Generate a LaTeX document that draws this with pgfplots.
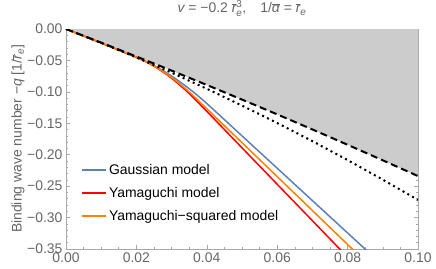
\documentclass[border=0pt]{standalone}
\usepackage{fontspec}
\setmainfont{Liberation Sans}
\usepackage{pgfplots}
\pgfplotsset{compat=1.18}
\definecolor{mblue}{HTML}{5E81B5}
\definecolor{morange}{RGB}{255,128,0}
\definecolor{mred}{RGB}{255,0,0}
\definecolor{txtgray}{HTML}{666666}
\definecolor{framegray}{HTML}{A8A8A8}
\definecolor{fillgray}{HTML}{CCCCCC}
\newcommand{\rb}{\ensuremath{\overline{\mbox{\itshape r}}}}
\newcommand{\sm}[1]{\mbox{\fontsize{10}{10}\selectfont #1}}
\newcommand{\fs}{\fontsize{14}{16}\selectfont}
\pgfplotsset{
  mylegend/.style={
    legend image code/.code={\draw[##1, line width=1.5bp] (0bp,0bp) -- (24bp,0bp);}
  }
}
\begin{document}
\begin{tikzpicture}
\path[use as bounding box] (-66bp,-20bp) rectangle (370bp,249bp);
\begin{axis}[
  scale only axis, width=352bp, height=220bp,
  xmin=0, xmax=0.1, ymin=-0.35, ymax=0,
  xtick={0,0.02,0.04,0.06,0.08,0.1},
  xticklabels={0.00,0.02,0.04,0.06,0.08,0.10},
  ytick={-0.35,-0.3,-0.25,-0.2,-0.15,-0.1,-0.05,0},
  yticklabels={−0.35,−0.30,−0.25,−0.20,−0.15,−0.10,−0.05,0.00},
  minor x tick num=3, minor y tick num=4,
  tick align=inside,
  major tick length=4bp, minor tick length=2.5bp,
  every tick/.style={framegray, line width=0.6bp},
  axis line style={framegray, line width=0.8bp},
  tick label style={font=\fs, text=txtgray},
  title={{\itshape v} = −0.2 \rb$_{\sm{\itshape e}}^{\sm{3}}$,\quad 1/$\overline{\mbox{\itshape α}}$ = \rb$_{\sm{\itshape e}}$},
  title style={font=\fs, text=txtgray, at={(0.5,1)}, anchor=south, yshift=3bp},
  ylabel={Binding wave number −{\itshape q} [1/\rb$_{\sm{\itshape e}}$]},
  ylabel style={font=\fs, text=txtgray, at={(axis description cs:-0.136,0.5)}, anchor=center},
  mylegend,
  legend cell align=left,
  legend style={at={(axis description cs:0.035,0.405)}, anchor=north west, draw=none, fill=none, font=\fs, row sep=7.5bp, text=black},
]
\addplot[fill=fillgray, draw=none, forget plot] coordinates {
(0,0) (0.01,-0.0217) (0.02,-0.0438) (0.03,-0.0662) (0.04,-0.0890) (0.05,-0.1123) (0.06,-0.1358) (0.07,-0.1598) (0.08,-0.1842) (0.09,-0.2089) (0.1,-0.234) (0.1,0)
} -- cycle;
\addplot[draw=mblue, line width=1.5bp] coordinates {
(0,0) (0.01,-0.0222) (0.02,-0.045) (0.022,-0.0499) (0.024,-0.0553) (0.026,-0.0613) (0.028,-0.0678) (0.03,-0.0749) (0.032,-0.0825) (0.034,-0.0907) (0.036,-0.0994) (0.038,-0.1087) (0.04,-0.1185) (0.05,-0.170) (0.06,-0.2215) (0.07,-0.273) (0.08,-0.3245) (0.09,-0.376)
};
\addlegendentry{Gaussian model}
\addplot[draw=mred, line width=1.5bp] coordinates {
(0,0) (0.01,-0.0222) (0.02,-0.045) (0.022,-0.05) (0.024,-0.0559) (0.026,-0.0625) (0.028,-0.07) (0.03,-0.0783) (0.032,-0.0875) (0.034,-0.0974) (0.036,-0.1082) (0.04,-0.131) (0.05,-0.189) (0.06,-0.247) (0.07,-0.305) (0.08,-0.363) (0.09,-0.421)
};
\addlegendentry{Yamaguchi model}
\addplot[draw=morange, line width=1.5bp] coordinates {
(0,0) (0.01,-0.0222) (0.02,-0.045) (0.022,-0.05) (0.024,-0.0557) (0.026,-0.0621) (0.028,-0.0692) (0.03,-0.0771) (0.032,-0.0857) (0.034,-0.0951) (0.036,-0.1052) (0.04,-0.1268) (0.05,-0.1808) (0.06,-0.2348) (0.07,-0.2888) (0.08,-0.3428) (0.09,-0.3968)
};
\addlegendentry{Yamaguchi−squared model}
\addplot[black, line width=2bp, dash pattern=on 2bp off 3.5bp, forget plot] coordinates {
(0,0) (0.01,-0.0221) (0.02,-0.0453) (0.03,-0.0696) (0.04,-0.0951) (0.05,-0.1218) (0.06,-0.1495) (0.07,-0.1784) (0.08,-0.2085) (0.09,-0.2397) (0.1,-0.272)
};
\addplot[black, line width=2bp, dash pattern=on 7bp off 4bp, forget plot] coordinates {
(0,0) (0.01,-0.0217) (0.02,-0.0438) (0.03,-0.0662) (0.04,-0.0890) (0.05,-0.1123) (0.06,-0.1358) (0.07,-0.1598) (0.08,-0.1842) (0.09,-0.2089) (0.1,-0.234)
};
\end{axis}
\end{tikzpicture}
\end{document}
